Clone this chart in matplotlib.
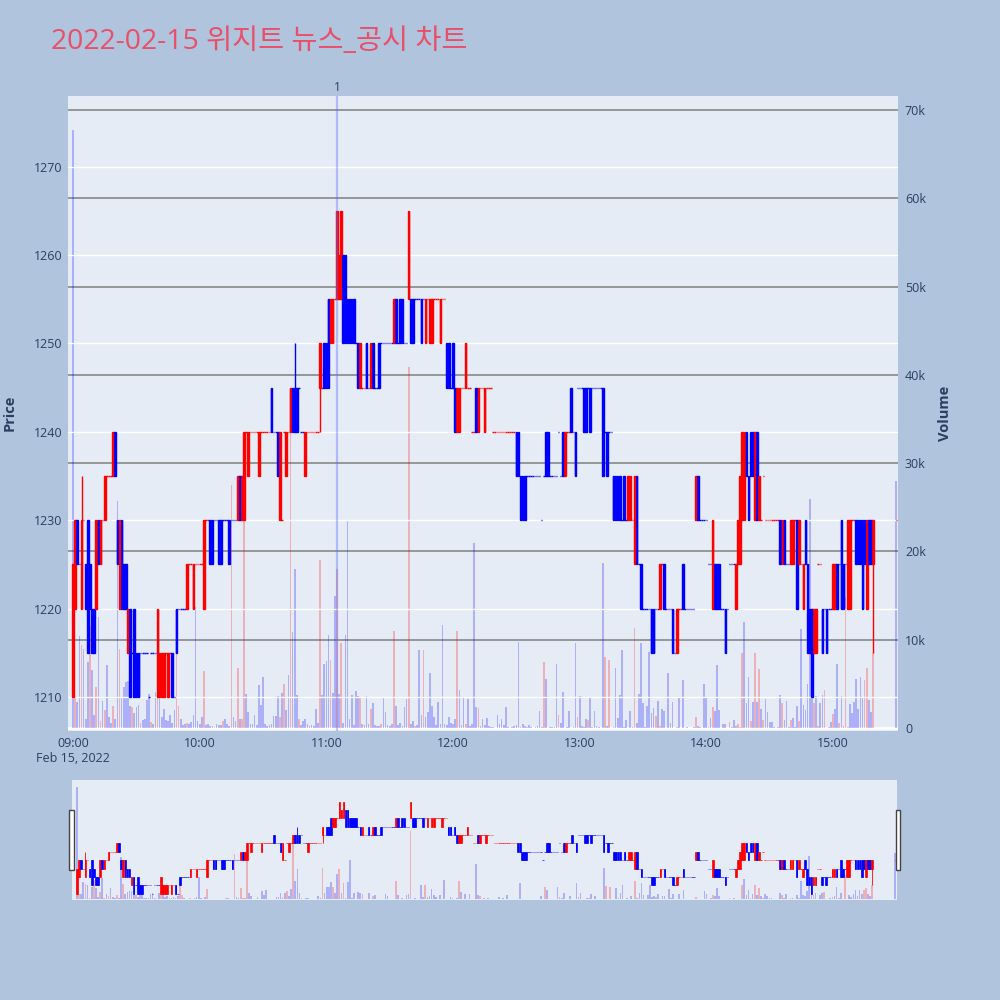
import pandas as pd
import matplotlib
matplotlib.use("Agg")
import matplotlib.pyplot as plt
import matplotlib.dates as mdates
import matplotlib.transforms as mtransforms
from matplotlib.patches import Rectangle

plt.rcParams['font.family'] = ['Open Sans', 'Noto Sans CJK KR', 'DejaVu Sans']

TITLE = "2022-02-15 위지트 뉴스_공시 차트"
NEWS_TIME = "2022-02-15 11:05"
NEWS_LABEL = "1"

# one candle per minute 09:00-15:19, plus the 15:30 closing auction
times = pd.date_range("2022-02-15 09:00", periods=380, freq="min").append(
    pd.DatetimeIndex(["2022-02-15 15:30"]))

opens = [
    1210, 1220, 1230, 1225, 1220, 1230, 1225, 1230, 1225, 1220,
    1220, 1220, 1230, 1225, 1230, 1230, 1235, 1235, 1235, 1235,
    1240, 1230, 1220, 1230, 1225, 1225, 1215, 1220, 1215, 1220,
    1215, 1215, 1215, 1215, 1215, 1215, 1210, 1215, 1215, 1215,
    1210, 1210, 1210, 1210, 1215, 1210, 1215, 1215, 1210, 1220,
    1220, 1220, 1220, 1220, 1220, 1225, 1225, 1220, 1225, 1225,
    1225, 1225, 1220, 1230, 1230, 1230, 1230, 1230, 1230, 1230,
    1230, 1230, 1230, 1230, 1230, 1230, 1230, 1230, 1230, 1235,
    1230, 1230, 1240, 1235, 1240, 1240, 1240, 1240, 1235, 1240,
    1240, 1240, 1240, 1240, 1245, 1240, 1240, 1240, 1230, 1230,
    1240, 1235, 1240, 1240, 1245, 1245, 1245, 1245, 1240, 1240,
    1235, 1240, 1240, 1240, 1240, 1240, 1240, 1245, 1245, 1250,
    1250, 1255, 1250, 1250, 1255, 1255, 1255, 1255, 1260, 1260,
    1255, 1255, 1255, 1255, 1250, 1250, 1245, 1245, 1245, 1250,
    1245, 1245, 1250, 1245, 1245, 1250, 1250, 1250, 1250, 1250,
    1250, 1250, 1250, 1255, 1250, 1255, 1255, 1250, 1250, 1255,
    1255, 1255, 1255, 1255, 1255, 1255, 1255, 1250, 1255, 1250,
    1250, 1255, 1255, 1255, 1250, 1255, 1255, 1250, 1250, 1245,
    1250, 1245, 1240, 1240, 1245, 1245, 1245, 1245, 1245, 1240,
    1240, 1245, 1240, 1245, 1245, 1240, 1245, 1245, 1245, 1240,
    1240, 1240, 1240, 1240, 1240, 1240, 1240, 1240, 1240, 1240,
    1240, 1240, 1235, 1235, 1235, 1235, 1235, 1235, 1235, 1235,
    1235, 1235, 1230, 1235, 1240, 1240, 1235, 1235, 1235, 1235,
    1240, 1235, 1240, 1235, 1240, 1240, 1245, 1240, 1240, 1245,
    1245, 1245, 1245, 1245, 1245, 1245, 1245, 1245, 1245, 1245,
    1245, 1245, 1240, 1240, 1240, 1240, 1235, 1235, 1235, 1235,
    1230, 1235, 1230, 1230, 1230, 1230, 1225, 1235, 1225, 1225,
    1220, 1220, 1220, 1220, 1220, 1220, 1220, 1220, 1220, 1225,
    1225, 1220, 1220, 1220, 1220, 1215, 1215, 1220, 1220, 1225,
    1220, 1220, 1220, 1220, 1220, 1230, 1235, 1230, 1230, 1230,
    1230, 1225, 1225, 1220, 1225, 1225, 1225, 1220, 1220, 1220,
    1220, 1225, 1225, 1225, 1220, 1225, 1225, 1230, 1230, 1240,
    1235, 1240, 1240, 1230, 1240, 1230, 1230, 1235, 1230, 1230,
    1230, 1230, 1230, 1230, 1230, 1230, 1225, 1230, 1225, 1225,
    1225, 1225, 1230, 1230, 1225, 1225, 1220, 1230, 1225, 1220,
    1220, 1215, 1215, 1225, 1225, 1220, 1220, 1220, 1220, 1220,
    1220, 1220, 1225, 1225, 1230, 1225, 1225, 1220, 1220, 1230,
    1230, 1230, 1230, 1230, 1230, 1230, 1220, 1230, 1230, 1225,
    1230,
]
closes = [
    1225, 1230, 1225, 1225, 1230, 1230, 1220, 1215, 1220, 1215,
    1215, 1230, 1225, 1230, 1230, 1235, 1235, 1235, 1235, 1240,
    1235, 1225, 1230, 1220, 1220, 1220, 1220, 1210, 1215, 1210,
    1210, 1210, 1215, 1215, 1215, 1215, 1210, 1215, 1215, 1215,
    1220, 1215, 1215, 1215, 1215, 1215, 1215, 1210, 1210, 1215,
    1220, 1220, 1220, 1220, 1225, 1225, 1225, 1225, 1225, 1225,
    1225, 1225, 1230, 1230, 1230, 1225, 1225, 1230, 1230, 1225,
    1225, 1230, 1230, 1230, 1225, 1230, 1230, 1230, 1235, 1230,
    1235, 1240, 1240, 1240, 1240, 1240, 1240, 1240, 1240, 1240,
    1240, 1240, 1240, 1240, 1240, 1240, 1240, 1235, 1240, 1230,
    1240, 1240, 1240, 1245, 1240, 1240, 1240, 1245, 1240, 1240,
    1240, 1240, 1240, 1240, 1240, 1240, 1240, 1250, 1245, 1245,
    1245, 1245, 1255, 1255, 1255, 1265, 1260, 1265, 1250, 1250,
    1250, 1250, 1250, 1250, 1250, 1245, 1250, 1245, 1245, 1245,
    1245, 1250, 1245, 1245, 1245, 1245, 1250, 1250, 1250, 1250,
    1250, 1250, 1255, 1250, 1250, 1250, 1250, 1250, 1250, 1265,
    1250, 1250, 1255, 1255, 1255, 1250, 1255, 1255, 1255, 1255,
    1255, 1255, 1255, 1255, 1255, 1255, 1255, 1245, 1245, 1245,
    1245, 1240, 1245, 1245, 1245, 1245, 1250, 1245, 1245, 1240,
    1240, 1240, 1245, 1245, 1245, 1245, 1245, 1245, 1245, 1240,
    1240, 1240, 1240, 1240, 1240, 1240, 1240, 1240, 1240, 1240,
    1235, 1235, 1230, 1230, 1230, 1235, 1235, 1235, 1235, 1235,
    1235, 1235, 1230, 1235, 1235, 1235, 1235, 1235, 1235, 1235,
    1240, 1235, 1235, 1240, 1240, 1240, 1240, 1240, 1235, 1245,
    1245, 1245, 1240, 1240, 1245, 1240, 1245, 1245, 1245, 1245,
    1245, 1235, 1240, 1235, 1240, 1240, 1230, 1230, 1230, 1230,
    1230, 1230, 1230, 1235, 1235, 1230, 1235, 1225, 1225, 1220,
    1220, 1220, 1220, 1220, 1215, 1215, 1220, 1220, 1225, 1225,
    1220, 1220, 1220, 1220, 1215, 1215, 1220, 1220, 1220, 1220,
    1220, 1220, 1220, 1220, 1220, 1235, 1230, 1230, 1230, 1230,
    1230, 1225, 1225, 1230, 1220, 1220, 1220, 1220, 1220, 1215,
    1220, 1225, 1225, 1225, 1225, 1230, 1235, 1240, 1240, 1235,
    1230, 1235, 1235, 1240, 1230, 1235, 1230, 1235, 1230, 1230,
    1230, 1230, 1230, 1230, 1230, 1225, 1230, 1225, 1225, 1225,
    1230, 1230, 1230, 1220, 1230, 1225, 1225, 1225, 1215, 1215,
    1210, 1220, 1220, 1225, 1225, 1215, 1220, 1215, 1220, 1220,
    1225, 1225, 1220, 1225, 1220, 1220, 1225, 1230, 1230, 1230,
    1230, 1225, 1225, 1225, 1220, 1225, 1230, 1225, 1225, 1230,
    1230,
]
# wicks beyond the body: index -> (low, high)
wicks = {4: (1220, 1235), 105: (1240, 1250), 117: (1240, 1250), 379: (1215, 1230)}

volume_k = [
    67.7, 3.4, 3.0, 10.4, 9.4, 8.9, 1.0, 7.5, 11.6, 6.6,
    1.5, 4.6, 12.6, 0.8, 3.1, 2.0, 7.1, 1.2, 0.6, 2.5,
    1.0, 25.7, 9.0, 3.5, 4.6, 5.2, 5.3, 2.5, 2.4, 1.7,
    2.4, 2.6, 0.6, 0.9, 1.0, 3.2, 3.9, 0.7, 0.5, 4.1,
    5.0, 5.7, 1.2, 2.2, 0.9, 0.8, 1.5, 0.6, 2.0, 9.8,
    2.5, 1.0, 0.3, 0.5, 0.6, 0.4, 0.7, 1.5, 13.7, 0.8,
    0.5, 1.2, 6.5, 0.3, 0.4, 0.2, 0.2, 0.1, 0.5, 0.3,
    0.3, 0.8, 1.0, 0.4, 0.2, 27.5, 1.2, 0.8, 6.8, 1.0,
    1.0, 24.3, 3.9, 1.8, 0.5, 0.4, 1.5, 0.3, 4.9, 2.6,
    5.8, 0.5, 0.2, 0.3, 0.4, 1.4, 1.4, 3.6, 1.2, 4.0,
    5.0, 2.0, 6.0, 33.7, 10.9, 18.0, 3.7, 1.0, 0.3, 0.8,
    1.0, 0.5, 0.2, 0.3, 0.2, 2.2, 0.6, 19.0, 3.7, 7.3,
    7.6, 10.5, 7.7, 4.0, 15.0, 18.0, 3.9, 9.6, 0.6, 10.5,
    23.5, 1.0, 3.7, 0.3, 4.2, 3.6, 3.5, 0.4, 0.3, 3.6,
    0.4, 2.2, 2.8, 0.3, 0.2, 0.2, 0.5, 3.4, 1.8, 0.3,
    0.2, 0.4, 11.0, 2.5, 0.3, 0.6, 0.2, 2.4, 3.3, 40.9,
    0.5, 0.8, 0.2, 0.3, 8.8, 1.5, 8.8, 1.2, 1.8, 6.2,
    2.5, 1.2, 0.3, 2.9, 0.4, 11.7, 0.5, 0.3, 1.3, 0.6,
    0.5, 1.0, 11.0, 4.3, 0.3, 3.4, 0.5, 3.3, 0.2, 0.4,
    21.0, 2.4, 2.3, 0.2, 1.0, 0.3, 1.1, 0.2, 0.1, 0.1,
    0.0, 1.5, 0.5, 1.0, 0.3, 2.4, 0.1, 0.0, 0.1, 0.2,
    0.3, 9.7, 0.1, 0.5, 0.2, 0.1, 0.3, 0.1, 0.0, 0.1,
    0.2, 1.9, 0.1, 7.5, 5.6, 0.0, 0.1, 0.1, 0.1, 7.3,
    1.5, 0.6, 4.1, 0.0, 0.1, 1.9, 0.0, 0.1, 9.6, 1.3,
    3.6, 0.2, 0.1, 1.0, 0.9, 3.5, 0.1, 1.9, 0.2, 0.1,
    0.0, 18.7, 8.0, 0.2, 7.7, 0.0, 0.1, 6.8, 1.1, 3.7,
    8.8, 0.1, 0.9, 0.0, 1.9, 0.1, 11.3, 0.6, 3.9, 9.6,
    2.8, 0.1, 2.5, 8.6, 1.7, 2.3, 1.4, 3.1, 0.2, 2.1,
    1.9, 0.0, 6.2, 0.6, 3.0, 0.0, 0.1, 3.5, 0.0, 5.4,
    0.0, 0.1, 0.0, 0.0, 0.1, 1.2, 0.2, 0.1, 0.0, 5.0,
    3.5, 0.1, 1.1, 2.4, 1.9, 7.1, 2.0, 0.0, 0.4, 0.4,
    0.0, 0.7, 0.1, 0.9, 0.2, 0.4, 0.1, 8.5, 12.0, 2.8,
    5.8, 0.8, 3.0, 8.5, 2.9, 6.7, 2.2, 0.9, 3.3, 1.8,
    0.7, 0.7, 0.1, 0.0, 0.1, 3.7, 2.8, 0.9, 3.1, 0.1,
    0.9, 1.1, 0.1, 2.5, 0.8, 11.2, 2.6, 2.0, 5.0, 26.0,
    11.9, 2.8, 3.6, 0.2, 2.8, 3.7, 4.3, 0.0, 0.1, 0.7,
    1.6, 2.2, 7.3, 0.6, 3.6, 0.2, 14.8, 0.1, 2.7, 1.7,
    3.0, 5.6, 2.2, 5.8, 3.5, 5.4, 6.8, 3.2, 1.8, 8.5,
    28.0,
]

price_ticks = [1210, 1220, 1230, 1240, 1250, 1260, 1270]
vol_ticks = [0, 10000, 20000, 30000, 40000, 50000, 60000, 70000]
vol_tick_labels = ["0", "10k", "20k", "30k", "40k", "50k", "60k", "70k"]

# ---- derived ----
lows = [min(o, c) for o, c in zip(opens, closes)]
highs = [max(o, c) for o, c in zip(opens, closes)]
for i, (lo, hi) in wicks.items():
    lows[i], highs[i] = lo, hi
volume = [v * 1000 for v in volume_k]

UP, DOWN = "#ff0000", "#0000ff"
colors, last = [], UP
for o, c in zip(opens, closes):
    if c > o:
        last = UP
    elif c < o:
        last = DOWN
    colors.append(last)
# volume coloured by close against the previous close
vcolors = [(0, 0, 1, 0.25)]
for prev, c in zip(closes[:-1], closes[1:]):
    vcolors.append((1, 0, 0, 0.25) if c > prev else (0, 0, 1, 0.25))

x = mdates.date2num(times)
MIN = 1 / 1440
xlim = (x[0] - 2.4 * MIN, x[0] + 390.8 * MIN)
plim = (1206.15, 1278.0)
vlim = (-340, 71600)
TXT = "#2a3f5f"
BG = "#e5ecf6"


def draw(ax_v, ax_p, body_lw, wick_lw):
    ax_v.bar(x, volume, width=0.8 * MIN, color=vcolors, linewidth=0)
    ax_p.vlines(x, lows, highs, colors=colors, linewidth=wick_lw)
    ax_p.bar(x, [c - o for o, c in zip(opens, closes)], bottom=opens, width=0.75 * MIN,
             color=colors, edgecolor=colors, linewidth=body_lw)
    ax_v.set_xlim(*xlim)
    ax_v.set_ylim(*vlim)
    ax_p.set_ylim(*plim)
    ax_v.set_facecolor(BG)
    ax_p.patch.set_visible(False)
    for a in (ax_v, ax_p):
        for s in a.spines.values():
            s.set_visible(False)


fig = plt.figure(figsize=(10, 10), dpi=100, facecolor="#b0c4de")

# ---- main chart ----
ax_v = fig.add_axes([0.068, 0.269, 0.830, 0.635])
ax_p = ax_v.twinx()
for v in vol_ticks[1:]:
    ax_v.axhline(v, color="#8f8f8f", linewidth=1.3, zorder=0)
ax_v.axhline(0, color="white", linewidth=2, zorder=0)
for p in price_ticks:
    ax_p.axhline(p, color="white", linewidth=1, zorder=0)
draw(ax_v, ax_p, body_lw=1.0, wick_lw=1.0)

ax_v.yaxis.tick_right()
ax_p.yaxis.tick_left()
ax_v.set_yticks(vol_ticks)
ax_v.set_yticklabels(vol_tick_labels)
ax_p.set_yticks(price_ticks)
ax_v.tick_params(axis="y", length=0, labelsize=9, labelcolor=TXT, pad=5)
ax_p.tick_params(axis="y", length=0, labelsize=9, labelcolor=TXT, pad=4)

ax_v.xaxis.set_major_locator(mdates.HourLocator())
hour_fmt = mdates.DateFormatter("%H:%M")
ax_v.xaxis.set_major_formatter(
    plt.FuncFormatter(lambda v, pos: hour_fmt(v, pos) + ("\nFeb 15, 2022" if pos == 0 else "")))
ax_v.tick_params(axis="x", length=0, labelsize=9, labelcolor=TXT, pad=4)
for lbl in ax_v.get_xticklabels():
    lbl.set_multialignment("center")

# news marker
xn = mdates.date2num(pd.Timestamp(NEWS_TIME))
ax_p.axvline(xn, color=(0.35, 0.45, 1.0, 0.4), linewidth=1.6)
trans = mtransforms.blended_transform_factory(ax_p.transData, ax_p.transAxes)
ax_p.text(xn, 1.003, NEWS_LABEL, transform=trans, ha="center", va="bottom",
          fontsize=8.5, color=TXT)

fig.text(0.051, 0.958, TITLE, fontsize=20.4, color="#e8506a", ha="left", va="center",
         family=["Open Sans", "Noto Sans CJK KR", "DejaVu Sans"])
fig.text(0.010, 0.587, "Price", rotation=90, ha="center", va="center",
         fontsize=10.5, fontweight="bold", color=TXT)
fig.text(0.945, 0.587, "Volume", rotation=90, ha="center", va="center",
         fontsize=10.5, fontweight="bold", color=TXT)

# ---- range slider ----
sl_v = fig.add_axes([0.072, 0.100, 0.825, 0.120])
sl_p = sl_v.twinx()
draw(sl_v, sl_p, body_lw=0.5, wick_lw=0.6)
for a in (sl_v, sl_p):
    a.set_xticks([])
    a.set_yticks([])
for hx in (0.0690, 0.8955):
    fig.patches.append(Rectangle((hx, 0.130), 0.0045, 0.060, transform=fig.transFigure,
                                 facecolor="white", edgecolor="#444444", linewidth=1))

fig.savefig("out.png", dpi=100, facecolor=fig.get_facecolor())
